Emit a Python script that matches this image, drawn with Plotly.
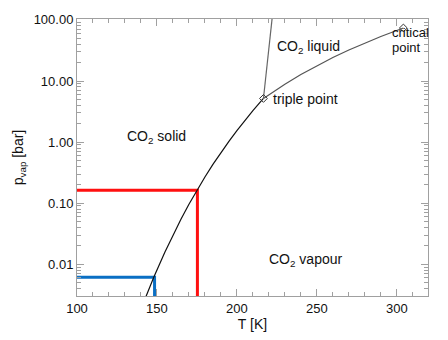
import plotly.graph_objects as go

# Sublimation curve (solid-vapour)
subl_T = [143.0, 148.0, 155.0, 160.0, 165.0, 170.0, 175.0, 180.0, 185.0, 190.0, 195.0, 200.0, 205.0, 210.0, 216.6]
subl_p = [0.0029, 0.0061, 0.0159, 0.0301, 0.0546, 0.0958, 0.163, 0.268, 0.431, 0.674, 1.03, 1.545, 2.27, 3.27, 5.18]

# Liquid-vapour curve
lv_T = [216.6, 220.0, 230.0, 240.0, 250.0, 260.0, 270.0, 280.0, 290.0, 304.1]
lv_p = [5.18, 5.98, 8.88, 12.76, 17.8, 24.2, 32.2, 41.9, 53.6, 73.8]

# Melting curve (solid-liquid)
melt_T = [216.6, 222.0]
melt_p = [5.18, 105.0]

# Special points
pts_T = [216.6, 304.1]
pts_p = [5.18, 73.8]

# Red and blue guide lines
red_T = [100.0, 175.3, 175.3]
red_p = [0.163, 0.163, 0.001]
blue_T = [100.0, 148.5, 148.5]
blue_p = [0.0061, 0.0061, 0.001]

y_tickvals = [0.01, 0.1, 1, 10, 100]
y_ticktext = ["0.01", "0.10", "1.00", "10.00", "100.00"]
x_tickvals = [100, 150, 200, 250, 300]

FONT = "Liberation Sans, Arial, Helvetica, sans-serif"

fig = go.Figure()
fig.add_trace(go.Scatter(x=red_T, y=red_p, mode="lines", line=dict(color="#ff1010", width=3)))
fig.add_trace(go.Scatter(x=blue_T, y=blue_p, mode="lines", line=dict(color="#0a6fc4", width=3)))
fig.add_trace(go.Scatter(x=subl_T, y=subl_p, mode="lines", line=dict(color="#111111", width=1.2)))
fig.add_trace(go.Scatter(x=lv_T, y=lv_p, mode="lines", line=dict(color="#555555", width=1.2)))
fig.add_trace(go.Scatter(x=melt_T, y=melt_p, mode="lines", line=dict(color="#666666", width=1.2)))
fig.add_trace(go.Scatter(x=pts_T, y=pts_p, mode="markers",
                         marker=dict(symbol="diamond-open", size=6, color="#333333", line=dict(width=1))))

txt = dict(size=14, color="#111111", family=FONT)
small = dict(size=13, color="#111111", family=FONT)
anns = [
    dict(x=149.5, y=0.08, text="CO<sub>2</sub> solid", xanchor="center", font=txt),
    dict(x=245, y=1.56, text="CO<sub>2</sub> liquid", xanchor="center", font=txt),
    dict(x=221.5, y=0.7, text="triple point", xanchor="left", font=txt),
    dict(x=296.0, y=1.80, text="critical", xanchor="left", font=small),
    dict(x=296.0, y=1.555, text="point", xanchor="left", font=small),
    dict(x=243, y=-1.93, text="CO<sub>2</sub> vapour", xanchor="center", font=txt),
]
for a in anns:
    fig.add_annotation(x=a["x"], y=a["y"], text=a["text"], xanchor=a["xanchor"], yanchor="middle",
                       showarrow=False, font=a["font"], align="left")

axis_common = dict(showline=True, linecolor="#a0a0a0", linewidth=1, mirror="ticks",
                   ticks="inside", tickcolor="#a0a0a0", ticklen=7, tickwidth=1,
                   showgrid=False, zeroline=False,
                   tickfont=dict(size=13, color="#111111", family=FONT))

fig.update_xaxes(range=[100, 319.5], tickvals=x_tickvals,
                 minor=dict(ticks="inside", ticklen=4, tickcolor="#a0a0a0", dtick=10, showgrid=False),
                 title=dict(text="T [K]", font=dict(size=14, color="#111111", family=FONT), standoff=2),
                 **axis_common)
fig.update_yaxes(type="log", range=[-2.52, 2.015], tickvals=y_tickvals, ticktext=y_ticktext,
                 minor=dict(ticks="inside", ticklen=4, tickcolor="#a0a0a0", dtick="D1", showgrid=False),
                 title=dict(text="p<sub>vap</sub> [bar]", font=dict(size=14, color="#111111", family=FONT), standoff=6),
                 **axis_common)

fig.update_layout(width=448, height=340, margin=dict(l=77, r=20, t=19, b=44),
                  plot_bgcolor="white", paper_bgcolor="white", showlegend=False)

fig.write_html("out.html")
